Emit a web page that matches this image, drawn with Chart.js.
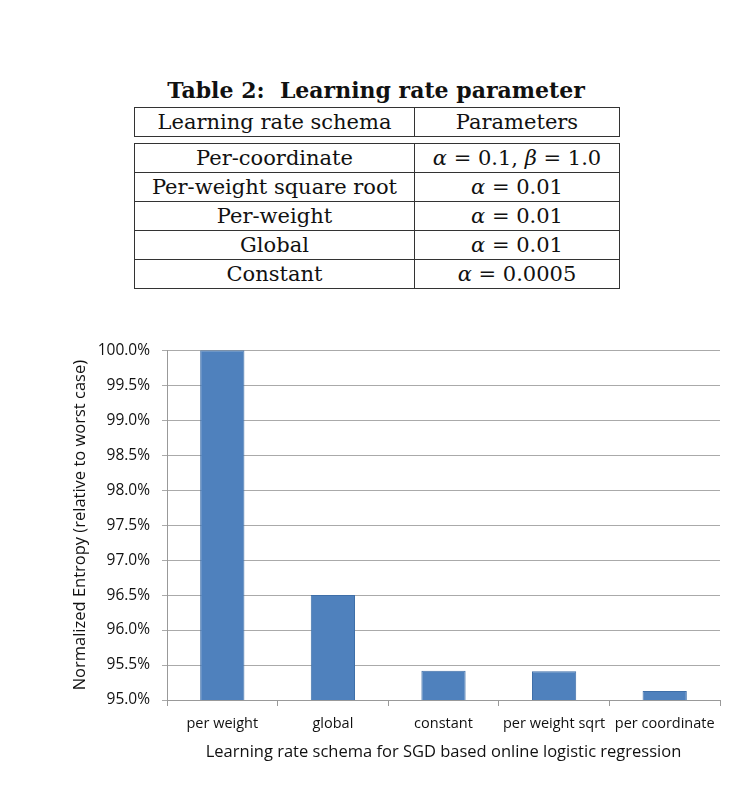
<!DOCTYPE html>
<html>
<head>
<meta charset="utf-8">
<script src="https://cdn.jsdelivr.net/npm/chart.js@4/dist/chart.umd.min.js"></script>
<style>
  body { margin: 0; background: #fff; width: 750px; height: 787px; position: relative; overflow: hidden; }
  #caption { position: absolute; left: 0; width: 752px; top: 77px; text-align: center;
    font-family: "DejaVu Serif", serif; font-weight: bold; font-size: 22px; color: #111; }
  table { position: absolute; left: 134px; top: 107px; border-collapse: collapse;
    font-family: "DejaVu Serif", serif; font-size: 21px; color: #111; }
  td { border: 1.5px solid #333; text-align: center; height: 28px; padding: 0; line-height: 28px; }
  td.c1 { width: 279px; }
  td.c2 { width: 204px; }
  tr.gap td { border-left: none; border-right: none; height: 6px; line-height: 6px; }
  #box { position: absolute; left: 60px; top: 329px; width: 670px; height: 437px; }
</style>
</head>
<body>
<div id="caption">Table 2:&nbsp; Learning rate parameter</div>
<table>
  <tr><td class="c1">Learning rate schema</td><td class="c2">Parameters</td></tr>
  <tr class="gap"><td></td><td></td></tr>
  <tr><td>Per-coordinate</td><td><i>α</i> = 0.1, <i>β</i> = 1.0</td></tr>
  <tr><td>Per-weight square root</td><td><i>α</i> = 0.01</td></tr>
  <tr><td>Per-weight</td><td><i>α</i> = 0.01</td></tr>
  <tr><td>Global</td><td><i>α</i> = 0.01</td></tr>
  <tr><td>Constant</td><td><i>α</i> = 0.0005</td></tr>
</table>
<div id="box"><canvas id="chart"></canvas></div>
<script>
const schemas = ["per weight", "global", "constant", "per weight sqrt", "per coordinate"];
const entropy = [100.0, 96.5, 95.42, 95.41, 95.13];
const yTicksMin = 95.0;
const yTicksMax = 100.0;

Chart.defaults.font.family = "\"Open Sans\", sans-serif";
Chart.defaults.color = "#111";

new Chart(document.getElementById("chart"), {
  type: "bar",
  data: {
    labels: schemas,
    datasets: [{
      data: entropy,
      backgroundColor: "#4f81bd",
      borderColor: "#3f6fa8",
      borderWidth: 1,
      barPercentage: 0.4,
      categoryPercentage: 1.0
    }]
  },
  options: {
    responsive: true,
    maintainAspectRatio: false,
    animation: false,
    layout: { padding: { top: 11, right: 10, left: 8 } },
    plugins: { legend: { display: false }, tooltip: { enabled: false } },
    scales: {
      x: {
        grid: { drawOnChartArea: false, color: "#999", tickLength: 6 },
        border: { color: "#999" },
        ticks: { font: { size: 14.5 }, padding: 9, maxRotation: 0 },
        title: { display: true, text: "Learning rate schema for SGD based online logistic regression",
                 font: { size: 16.5 }, padding: { top: 0 } },
        afterFit: (s) => { s.height = 66; }
      },
      y: {
        min: yTicksMin,
        max: yTicksMax,
        grid: { color: "#aaa", drawTicks: true, tickLength: 5 },
        border: { color: "#999" },
        ticks: { stepSize: 0.5, font: { size: 15.5 }, padding: 12,
                 callback: (v) => v.toFixed(1) + "%" },
        title: { display: true, text: "Normalized Entropy (relative to worst case)", font: { size: 16.5 }, padding: 2 },
        afterFit: (s) => { s.width = 99; }
      }
    }
  }
});
</script>
</body>
</html>
